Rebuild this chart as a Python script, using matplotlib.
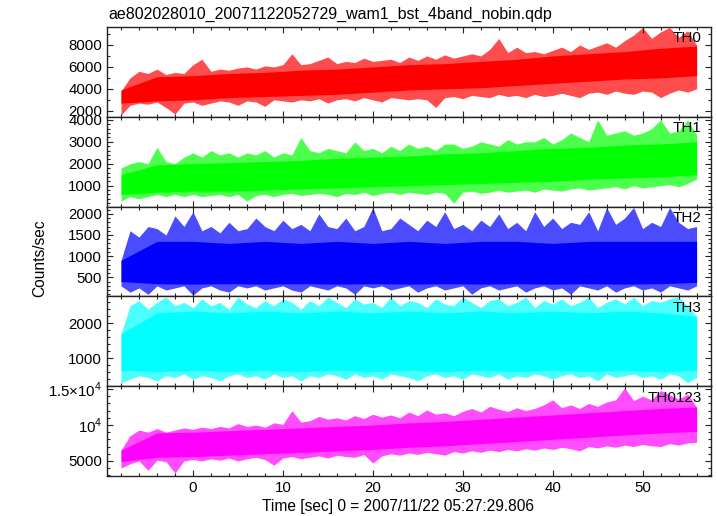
import numpy as np
import matplotlib
matplotlib.use("Agg")
import matplotlib.pyplot as plt
from matplotlib.ticker import FixedLocator, MultipleLocator

plt.rcParams['font.family'] = ['Liberation Sans', 'DejaVu Sans']
plt.rcParams['mathtext.fontset'] = 'custom'
plt.rcParams['mathtext.rm'] = 'Liberation Sans'

title = "ae802028010_20071122052729_wam1_bst_4band_nobin.qdp"
xlabel = "Time [sec] 0 = 2007/11/22 05:27:29.806"
ylabel = "Counts/sec"
bands = ["TH0", "TH1", "TH2", "TH3", "TH0123"]
colors = ["#ff0000", "#00ff00", "#0000ff", "#00ffff", "#ff00ff"]

# time grid (s) for local extremes, and coarser grid for the dense core
t = np.arange(-8, 57)
tc = np.arange(-8, 57, 4)

# local max / min, 1 s steps
th0_hi = [3800, 5000, 5600, 5400, 5800, 5300, 5500, 5400,
          6200, 6700, 5600, 5800, 5700, 5900, 6000, 5800, 6100, 6000,
          6200, 7200, 6200, 6300, 6600, 6900, 6300, 6500, 6400, 6800,
          6500, 6600, 6700, 6400, 6900, 6600, 7000, 6700, 7100, 6800,
          7000, 7200, 7000, 7600, 8600, 7300, 7800, 7300, 7400, 7200,
          7500, 7800, 7400, 8000, 7600, 7900, 8200, 7800, 8400, 8900,
          9600, 8600, 9200, 9600, 8700, 9300, 8000]
th0_lo = [1600, 2500, 2700, 2600, 2800, 2300, 1700, 2700,
          2800, 2500, 2700, 2900, 2800, 2500, 2900, 2800, 2400, 3000,
          2900, 2800, 3000, 2900, 3100, 2700, 3000, 3100, 2900, 3200,
          3000, 2800, 3200, 3100, 3000, 3100, 3000, 2300, 3200, 3300,
          3100, 3400, 3300, 3200, 3500, 3300, 3400, 3200, 3500, 3300,
          3400, 3600, 3400, 3200, 3600, 3700, 3500, 3800, 3600, 3500,
          3800, 3700, 3200, 3600, 3900, 3700, 4000]
th1_hi = [1800, 2000, 2100, 2000, 2750, 2100, 2000, 2300,
          2500, 2300, 2600, 2400, 2500, 2300, 2500, 2400, 2600, 2300,
          2500, 2400, 3200, 2600, 2500, 2700, 2600, 2500, 3000, 2600,
          2700, 2500, 2800, 2600, 2900, 2700, 2800, 2600, 2900, 2900,
          2700, 2800, 3000, 2900, 2800, 3100, 2900, 3000, 3000, 3200,
          2900, 3100, 3400, 3200, 3000, 4000, 3300, 3400, 3500, 3300,
          3400, 3600, 4000, 3400, 3500, 4000, 3300]
th1_lo = [300, 500, 400, 500, 600, 500, 600, 500,
          600, 500, 550, 600, 500, 600, 300, 550, 600, 500,
          600, 650, 550, 600, 650, 600, 500, 650, 600, 700,
          550, 650, 700, 600, 700, 650, 600, 700, 650, 200,
          700, 750, 650, 700, 800, 700, 750, 800, 700, 850,
          800, 750, 850, 900, 800, 850, 900, 950, 850, 1000,
          900, 950, 1000, 1050, 950, 1100, 1300]
th2_hi = [900, 1600, 1450, 1700, 1650, 1500, 1950, 1700,
          2050, 1600, 1700, 1550, 1800, 1600, 1650, 1900, 1700, 1600,
          1850, 1650, 1750, 1600, 2000, 1700, 1650, 1900, 1600, 1700,
          2150, 1600, 1650, 1900, 1750, 1600, 1850, 1700, 2050, 1650,
          1750, 1600, 1850, 1700, 2000, 1650, 1800, 1600, 2050, 1700,
          1900, 1650, 1800, 1750, 2050, 1600, 2150, 1750, 1900, 2150,
          1650, 1800, 1700, 2150, 1800, 1650, 1700]
th2_lo = [300, 150, 250, 100, 300, 200, 250, 300,
          80, 250, 300, 200, 150, 300, 250, 300, 200, 250,
          300, 200, 150, 300, 250, 200, 300, 250, 100, 300,
          250, 300, 200, 250, 300, 150, 250, 300, 200, 250,
          300, 100, 250, 300, 200, 250, 300, 150, 250, 300,
          200, 250, 100, 300, 250, 200, 300, 150, 250, 300,
          200, 250, 150, 300, 250, 200, 300]
th3_hi = [1700, 2500, 2650, 2400, 2600, 2750, 2500, 2600,
          2450, 2700, 2500, 2600, 2400, 2750, 2550, 2450, 2650, 2500,
          2700, 2600, 2400, 2650, 2500, 2750, 2600, 2450, 2700, 2550,
          2600, 2450, 2750, 2500, 2650, 2600, 2450, 2700, 2550, 2500,
          2750, 2600, 2450, 2650, 2700, 2500, 2600, 2750, 2450, 2650,
          2550, 2700, 2500, 2600, 2750, 2450, 2600, 2700, 2550, 2750,
          2500, 2650, 2600, 2700, 2750, 2500, 2200]
th3_lo = [300, 400, 500, 450, 350, 500, 450, 550,
          400, 500, 450, 350, 500, 550, 450, 500, 400, 550,
          450, 500, 350, 500, 450, 550, 500, 400, 550, 450,
          500, 400, 550, 500, 450, 350, 500, 550, 450, 500,
          400, 550, 500, 450, 550, 400, 500, 450, 550, 500,
          400, 500, 550, 450, 500, 350, 550, 450, 500, 550,
          450, 500, 400, 550, 500, 300, 450]
th4_hi = [6500, 8500, 9300, 9000, 9500, 9000, 9300, 9600,
          9400, 9700, 9500, 9800, 9600, 10200, 9800, 10000, 9700, 10300,
          10100, 12000, 10400, 10600, 11200, 10800, 11000, 10700, 11300, 10900,
          11500, 11100, 11400, 11000, 11800, 11300, 12100, 11500, 11700, 11300,
          11900, 12300, 11800, 12600, 12200, 11900, 12400, 12000, 12300, 12800,
          13500, 12400, 12800, 12300, 13000, 12600, 13200, 13500, 15200, 13400,
          14000, 13500, 14800, 14200, 13600, 14300, 12500]
th4_lo = [4000, 4600, 5000, 3700, 5100, 4900, 3300, 5000,
          5200, 5000, 5300, 5100, 5400, 5000, 5300, 5500, 5200, 4400,
          5400, 5600, 5300, 5500, 5700, 5400, 5800, 5600, 5500, 5900,
          4700, 5700, 6000, 5800, 6100, 5900, 6200, 6000, 5800, 6300,
          6100, 6400, 6200, 6500, 6300, 6600, 6400, 6700, 6500, 6800,
          6600, 6900, 6700, 6400, 7000, 6800, 7100, 6900, 7200, 7000,
          7300, 7100, 7000, 7400, 7200, 7500, 7600]

# dense core of each band, 4 s steps
th0_core_hi = [3900, 5100, 5200, 5400, 5500, 5700, 5800, 6000, 6200,
               6300, 6500, 6700, 7000, 7200, 7400, 7700, 7900]
th0_core_lo = [2700, 2900, 3000, 3200, 3300, 3400, 3500, 3700, 3900,
               4000, 4100, 4300, 4500, 4700, 4900, 5000, 5200]
th1_core_hi = [1500, 1950, 2000, 2050, 2100, 2150, 2250, 2300, 2350,
               2450, 2500, 2600, 2700, 2750, 2850, 2900, 3000]
th1_core_lo = [600, 700, 750, 750, 800, 850, 900, 950, 1000,
               1050, 1100, 1150, 1200, 1300, 1350, 1400, 1500]
th2_core_hi = [900, 1350, 1350, 1300, 1350, 1300, 1350, 1300, 1350,
               1300, 1350, 1350, 1300, 1350, 1350, 1350, 1350]
th2_core_lo = [400, 350, 340, 350, 340, 350, 340, 350, 340,
               350, 340, 350, 340, 350, 340, 350, 380]
th3_core_hi = [1700, 2300, 2350, 2300, 2350, 2300, 2350, 2300, 2350,
               2300, 2350, 2300, 2350, 2300, 2350, 2300, 2200]
th3_core_lo = [650, 620, 650, 620, 650, 620, 650, 620, 650,
               620, 650, 620, 650, 620, 650, 620, 650]
th4_core_hi = [6500, 8900, 9000, 9200, 9400, 9600, 9800, 10000, 10300,
               10500, 10800, 11100, 11400, 11700, 12000, 12300, 12500]
th4_core_lo = [4900, 5500, 5600, 5800, 6000, 6200, 6400, 6600, 6900,
               7100, 7400, 7700, 8000, 8300, 8600, 8900, 9100]

his = [th0_hi, th1_hi, th2_hi, th3_hi, th4_hi]
los = [th0_lo, th1_lo, th2_lo, th3_lo, th4_lo]
core_his = [th0_core_hi, th1_core_hi, th2_core_hi, th3_core_hi, th4_core_hi]
core_los = [th0_core_lo, th1_core_lo, th2_core_lo, th3_core_lo, th4_core_lo]

ylims = [(1450, 9640), (45, 4140), (50, 2170), (200, 2770), (2900, 15400)]
yticks = [[2000, 4000, 6000, 8000], [1000, 2000, 3000, 4000],
          [500, 1000, 1500, 2000], [1000, 2000], [5000, 10000, 15000]]
ytick_labels = [None, None, None, None,
                ["5000", r"10$^{4}$", r"1.5$\times$10$^{4}$"]]
yminor = [1000, 200, 100, 200, 1000]

fig, axes = plt.subplots(5, 1, sharex=True, figsize=(7.17, 5.16), dpi=100)
fig.subplots_adjust(left=0.1492, right=0.9916, top=1 - 27 / 516,
                    bottom=1 - 476 / 516, hspace=0)

for i, ax in enumerate(axes):
    c = colors[i]
    ax.fill_between(t, los[i], his[i], color=c, alpha=0.7, lw=0)
    ax.fill_between(tc, core_los[i], core_his[i], color=c, lw=0)
    ax.set_ylim(*ylims[i])
    ax.yaxis.set_major_locator(FixedLocator(yticks[i]))
    if ytick_labels[i] is not None:
        ax.set_yticklabels(ytick_labels[i])
    ax.yaxis.set_minor_locator(MultipleLocator(yminor[i]))
    ax.text(0.985, 0.95, bands[i], transform=ax.transAxes, ha='right',
            va='top', fontsize=11)
    ax.tick_params(which='both', direction='in', top=True, right=True,
                   labelsize=10.8, color='#222222', width=0.8)
    ax.tick_params(which='major', length=4.5)
    ax.tick_params(which='minor', length=2.2)
    for sp in ax.spines.values():
        sp.set_linewidth(1.0)
        sp.set_color('#222222')

axes[-1].set_xlim(-9.56, 57.6)
axes[-1].xaxis.set_major_locator(MultipleLocator(10))
axes[-1].xaxis.set_minor_locator(MultipleLocator(2))

fig.text(108 / 717, 1 - 14 / 516, title, ha='left', va='center', fontsize=11.5)
fig.text(398 / 717, 1 - 507 / 516, xlabel, ha='center', va='center',
         fontsize=11.2)
fig.text(40 / 717, 1 - 258 / 516, ylabel, ha='center', va='center',
         rotation=90, fontsize=11.2)

fig.savefig("out.png", dpi=100)
